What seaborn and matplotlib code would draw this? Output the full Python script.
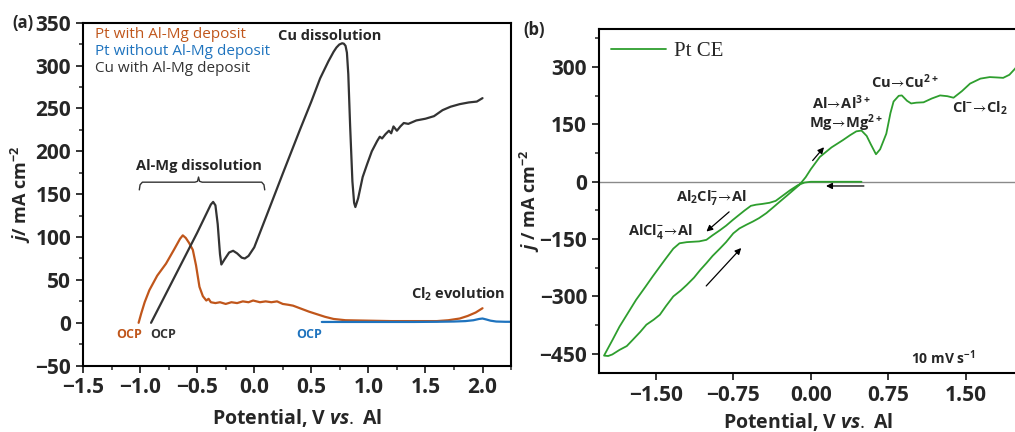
import matplotlib
matplotlib.use('Agg')
import matplotlib.pyplot as plt
import seaborn as sns
import numpy as np

sns.set_style('ticks')
plt.rcParams['font.family'] = ['Open Sans', 'DejaVu Sans']
plt.rcParams['mathtext.fontset'] = 'custom'
plt.rcParams['mathtext.rm'] = 'Open Sans'
plt.rcParams['mathtext.bf'] = 'Open Sans:bold'
plt.rcParams['mathtext.it'] = 'Open Sans:italic:bold'
plt.rcParams['mathtext.default'] = 'regular'
plt.rcParams['mathtext.fallback'] = 'stixsans'

# ---- panel (a): linear sweeps ----
cu_x = [-0.904, -0.80, -0.70, -0.60, -0.50, -0.42, -0.38, -0.36, -0.34, -0.32, -0.30, -0.288,
        -0.26, -0.22, -0.185, -0.15, -0.11, -0.083, -0.05, 0.0, 0.108, 0.25, 0.40, 0.50, 0.577,
        0.65, 0.695, 0.72, 0.745, 0.77, 0.785, 0.80, 0.812, 0.824, 0.84, 0.86, 0.875, 0.886,
        0.91, 0.95, 0.989, 1.03, 1.077, 1.10, 1.12, 1.15, 1.18, 1.20, 1.22, 1.25, 1.28, 1.31,
        1.35, 1.42, 1.50, 1.575, 1.65, 1.72, 1.80, 1.88, 1.95, 2.0]
cu_y = [0, 27, 53, 79, 105, 127, 138, 141, 137, 115, 80, 68,
        74, 82, 84, 81, 76, 75, 78, 88, 125, 174, 225, 258, 285,
        305, 316, 321, 324.5, 326, 325.5, 323, 315, 290, 230, 165, 140, 135,
        145, 170, 185, 200, 212, 217, 215, 220, 224, 221, 229, 224, 229, 233,
        232, 236, 238, 241, 248, 252, 255, 257, 258, 262]

ptd_x = [-1.013, -0.99, -0.96, -0.919, -0.85, -0.773, -0.70, -0.65, -0.626, -0.60, -0.57, -0.538,
         -0.51, -0.48, -0.45, -0.42, -0.40, -0.38, -0.34, -0.30, -0.25, -0.20, -0.15, -0.10,
         -0.05, -0.01, 0.05, 0.10, 0.15, 0.20, 0.25, 0.30, 0.34, 0.40, 0.48, 0.55, 0.62, 0.695,
         0.80, 1.0, 1.2, 1.4, 1.6, 1.7, 1.8, 1.87, 1.94, 2.0]
ptd_y = [0, 11, 24, 38, 55, 69, 86, 98, 102, 99, 93, 85,
         67, 42, 31, 26, 28, 24, 23, 24, 22, 24, 23, 25,
         24, 26, 24, 25, 24, 25, 22, 21, 20, 17, 13, 10, 7, 4.5,
         3, 2.5, 2, 2, 2, 3, 5, 8, 12, 17]

pt_x = [0.592, 0.8, 1.0, 1.2, 1.4, 1.6, 1.75, 1.85, 1.92, 1.97, 2.0, 2.03, 2.07, 2.12, 2.2, 2.26]
pt_y = [1, 1, 1, 1, 1, 1.2, 1.5, 2, 3, 4.5, 5, 4, 2.5, 1.5, 1.2, 1.2]

# ---- panel (b): cyclic voltammogram, Pt CE ----
cv_x = [0.49, 0.30, 0.10, 0.0, -0.06, -0.12, -0.20, -0.28, -0.34, -0.40, -0.47, -0.53, -0.58,
        -0.64, -0.70, -0.755, -0.82, -0.88, -0.95, -1.01, -1.08, -1.14, -1.20, -1.27, -1.33,
        -1.40, -1.46, -1.53, -1.60, -1.69, -1.77, -1.85, -1.92, -1.99, -2.0, -1.96, -1.92,
        -1.85, -1.78, -1.72, -1.65, -1.59, -1.52, -1.46, -1.40, -1.33, -1.26, -1.20, -1.13,
        -1.07, -1.01, -0.95, -0.88, -0.82, -0.75, -0.69, -0.62, -0.56, -0.50, -0.43, -0.36,
        -0.30, -0.23, -0.17, -0.11, -0.05, 0.0, 0.087, 0.20, 0.31, 0.38, 0.44, 0.49, 0.54,
        0.58, 0.63, 0.67, 0.73, 0.77, 0.80, 0.85, 0.88, 0.93, 0.97, 1.02, 1.09, 1.17, 1.25,
        1.32, 1.38, 1.46, 1.54, 1.64, 1.73, 1.80, 1.86, 1.92, 1.975, 2.0]
cv_y = [0, 0, 0, 0, -2, -8, -22, -38, -50, -55, -58, -60, -63,
        -75, -88, -100, -115, -127, -140, -152, -156, -157, -158, -161, -175,
        -200, -222, -248, -275, -309, -344, -379, -415, -450, -455, -456, -452,
        -440, -430, -413, -393, -374, -361, -348, -325, -300, -285, -270, -251,
        -231, -213, -194, -175, -158, -135, -122, -112, -104, -95, -82, -66,
        -52, -36, -22, -8, 12, 33, 65, 90, 109, 122, 132, 134, 120,
        98, 72, 85, 126, 180, 210, 225, 226, 212, 205, 207, 208, 218, 226,
        224, 220, 237, 257, 270, 274, 273, 272, 280, 296, 305]

c_orange = '#C0561B'
c_blue = '#1E73BE'
c_dark = '#333333'
c_green = '#2E9E2E'

fig = plt.figure(figsize=(10.15, 4.32), dpi=100)
ax1 = fig.add_axes([0.0818, 0.1535, 0.4217, 0.794])
ax2 = fig.add_axes([0.590, 0.137, 0.412, 0.796])

sns.lineplot(x=ptd_x, y=ptd_y, ax=ax1, color=c_orange, lw=1.6, sort=False, estimator=None)
sns.lineplot(x=pt_x, y=pt_y, ax=ax1, color=c_blue, lw=1.6, sort=False, estimator=None)
sns.lineplot(x=cu_x, y=cu_y, ax=ax1, color=c_dark, lw=1.6, sort=False, estimator=None)

ax1.set_xlim(-1.5, 2.25)
ax1.set_ylim(-50, 350)
ax1.set_xticks(np.arange(-1.5, 2.01, 0.5))
ax1.set_yticks(np.arange(-50, 351, 50))
ax1.set_xticks(np.arange(-1.25, 2.26, 0.5), minor=True)
ax1.set_yticks(np.arange(-25, 350, 50), minor=True)
ax1.set_xticklabels([f'{v:.1f}'.replace('-', '\u2212') for v in np.arange(-1.5, 2.01, 0.5)])
ax1.set_yticklabels([f'{v:d}'.replace('-', '\u2212') for v in range(-50, 351, 50)])

kw_leg = dict(fontsize=11, va='baseline', ha='left')
ax1.text(-1.394, 332, 'Pt with Al-Mg deposit', color=c_orange, **kw_leg)
ax1.text(-1.394, 312, 'Pt without Al-Mg deposit', color=c_blue, **kw_leg)
ax1.text(-1.394, 293, 'Cu with Al-Mg deposit', color=c_dark, **kw_leg)

ax1.text(0.661, 334, 'Cu dissolution', fontsize=10.5, weight='bold', ha='center', va='center')
ax1.text(-0.488, 183, 'Al-Mg dissolution', fontsize=10.5, weight='bold', ha='center', va='center')
ax1.text(1.79, 33, 'Cl$_2$ evolution', fontsize=10.5, weight='bold', ha='center', va='center')
ax1.text(-1.095, -14, 'OCP', fontsize=9, weight='bold', color=c_orange, ha='center', va='center')
ax1.text(-0.80, -14, 'OCP', fontsize=9, weight='bold', color=c_dark, ha='center', va='center')
ax1.text(0.485, -14, 'OCP', fontsize=9, weight='bold', color=c_blue, ha='center', va='center')

# curly bracket under "Al-Mg dissolution"
bx = [-1.007, -1.0, -0.98, -0.52, -0.497, -0.488, -0.479, -0.456, 0.065, 0.085, 0.092]
by = [155, 161, 164, 164, 165, 170, 165, 164, 164, 161, 155]
ax1.plot(bx, by, color=c_dark, lw=1.0)

xlab = 'Potential, V $\\mathit{vs.}\\;$Al'
ax1.set_xlabel(xlab, fontsize=14, weight='bold')
ax1.set_ylabel('$\\mathit{j}$/ mA cm$^{\u22122}$', fontsize=13, weight='bold')
ax1.xaxis.set_label_coords(0.5, -0.12)
ax1.yaxis.set_label_coords(-0.117, 0.5)

# panel (b)
ax2.axhline(0, color='#8a8a8a', lw=1.0, zorder=1)
sns.lineplot(x=cv_x, y=cv_y, ax=ax2, color=c_green, lw=1.3, sort=False, estimator=None,
             label='Pt CE')
ax2.set_xlim(-2.05, 1.994)
ax2.set_ylim(-500, 400)
xt = [-1.5, -0.75, 0.0, 0.75, 1.5]
ax2.set_xticks(xt)
ax2.set_xticklabels([f'{v:.2f}'.replace('-', '\u2212') for v in xt])
yt = [-450, -300, -150, 0, 150, 300]
ax2.set_yticks(yt)
ax2.set_yticklabels([f'{v:d}'.replace('-', '\u2212') for v in yt])
ax2.set_yticks([-375, -225, -75, 75, 225, 375], minor=True)

leg = ax2.legend(loc='upper left', frameon=False, prop={'family': 'Liberation Serif', 'size': 15},
                 handlelength=2.6, borderaxespad=0.2, handletextpad=0.4)

arr = '$\\!\\rightarrow\\!$'
kw_lab = dict(fontsize=10.5, weight='bold', ha='center', va='center')
ax2.text(-0.96, -40, 'Al$_2$Cl$_7^{\u2212}$' + arr + 'Al', **kw_lab)
ax2.text(-1.46, -131, 'AlCl$_4^{-}$' + arr + 'Al', **kw_lab)
ax2.text(0.30, 208, 'Al' + arr + 'Al$^{3+}$', **kw_lab)
ax2.text(0.34, 152, 'Mg' + arr + 'Mg$^{2+}$', **kw_lab)
ax2.text(0.905, 263, 'Cu' + arr + 'Cu$^{2+}$', **kw_lab)
ax2.text(1.64, 192, 'Cl$^{\u2212}$' + arr + 'Cl$_2$', **kw_lab)
ax2.text(1.28, -460, '10 mV s$^{-1}$', fontsize=10, weight='bold', ha='center', va='center')

akw = dict(arrowstyle='-|>', color='black', lw=0.9, mutation_scale=9)
ax2.annotate('', xy=(0.145, 96), xytext=(0.0, 50), arrowprops=akw)
ax2.annotate('', xy=(0.12, -11), xytext=(0.54, -11), arrowprops=akw)
ax2.annotate('', xy=(-1.03, -135), xytext=(-0.77, -74), arrowprops=akw)
ax2.annotate('', xy=(-0.655, -168), xytext=(-1.03, -278), arrowprops=akw)

ax2.set_xlabel(xlab, fontsize=14, weight='bold')
ax2.set_ylabel('$\\mathit{j}$ / mA cm$^{\u22122}$', fontsize=13, weight='bold')
ax2.xaxis.set_label_coords(0.5, -0.11)
ax2.yaxis.set_label_coords(-0.135, 0.5)

for ax in (ax1, ax2):
    for s in ax.spines.values():
        s.set_linewidth(1.5)
        s.set_color('black')
    ax.tick_params(which='major', direction='out', length=5, width=1.3, labelsize=15)
    ax.tick_params(which='minor', direction='out', length=3, width=1.1)
    for lab in ax.get_xticklabels() + ax.get_yticklabels():
        lab.set_fontweight('bold')
ax2.spines['right'].set_visible(False)

fig.text(0.023, 0.947, '(a)', fontsize=12, weight='bold', ha='center', va='center')
fig.text(0.526, 0.93, '(b)', fontsize=12, weight='bold', ha='center', va='center')

fig.savefig('out.png', dpi=100)
